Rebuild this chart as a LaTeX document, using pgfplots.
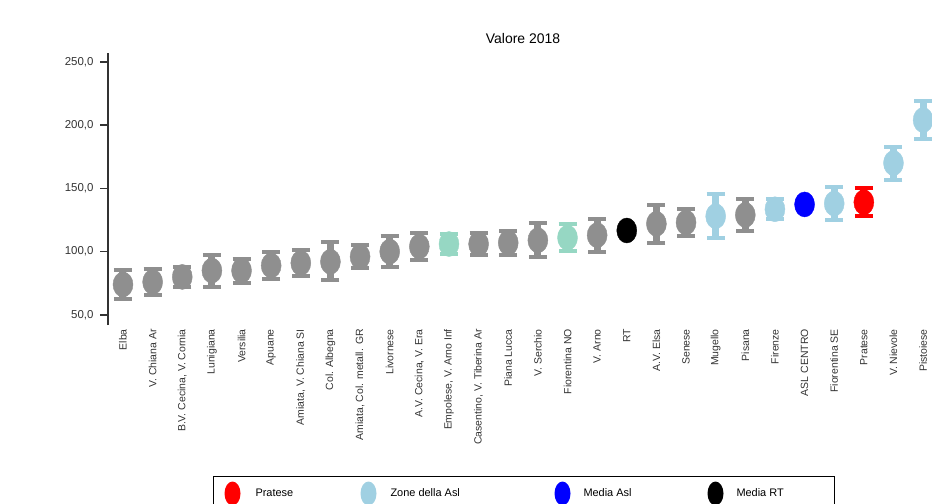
\documentclass[border=0pt]{standalone}
\usepackage{pgfplots}
\pgfplotsset{compat=1.18}
\usepackage{pgfplotstable}
\usepackage{fontspec}
\setmainfont{Liberation Sans}
\definecolor{mgray}{RGB}{143,143,143}
\definecolor{mint}{RGB}{150,215,195}
\definecolor{lblue}{RGB}{160,208,226}
\definecolor{pred}{RGB}{255,0,0}
\definecolor{pblue}{RGB}{0,0,255}

\pgfplotstableread{
x y ep em
0 74 11.5 11.5
1 76 10.5 10.5
2 80 8 8
3 85 12.5 13
4 85 9.5 9.5
5 89 11 11
6 91 10.5 10.5
7 92 16 14.5
8 96 9 9
9 100 12 12
10 104 10.5 10.5
12 106 9 9
13 107 9.5 9.5
14 109 13.5 13.5
16 113 13 13
18 122 15 15
19 123 10.5 10.5
21 129 12.5 12.5
}\graydata

\pgfplotstableread{
x y ep em
11 106 8 8
15 111 10.5 10.5
}\mintdata

\pgfplotstableread{
x y ep em
20 128 17.5 17.5
22 133.5 8 8
24 138 13 13
26 170 13 13
27 204 15 15
}\bluezone

\pgfplotstableread{
x y ep em
25 139 11 11
}\pratese

\pgfplotstableread{
x y
23 137.3
}\mediaasl

\pgfplotstableread{
x y
17 116.7
}\mediart

\pgfplotsset{
  errstyle/.style={
    error bars/y dir=both, error bars/y explicit,
    error bars/error bar style={line width=7bp},
    error bars/error mark options={rotate=90, mark size=9bp, line width=4bp, xscale=1},
  }
}

\begin{document}
\begin{tikzpicture}
\useasboundingbox (0,0) rectangle (932bp,504bp);
\begin{axis}[
  at={(108bp,179bp)}, anchor=south west,
  scale only axis, width=824bp, height=272bp,
  xmin=-0.506, xmax=27.3, ymin=42, ymax=257,
  clip=false,
  axis lines*=left,
  x axis line style={draw=none},
  y axis line style={line width=1.5bp, color=black!80},
  tick align=outside,
  major tick length=8bp,
  xtick style={draw=none},
  ytick style={line width=1.5bp, color=black!80},
  ytick={50,100,150,200,250},
  yticklabel style={font=\fontsize{11.5}{13}\selectfont, color=black!80, xshift=-3bp,
    /pgf/number format/.cd, fixed, fixed zerofill, precision=1, use comma},
  /pgf/number format/assume math mode=true,
  xtick={0,...,27},
  xticklabels={Elba, V. Chiana Ar, {B.V. Cecina, V. Cornia}, Lunigiana, Versilia, Apuane,
    {Amiata, V. Chiana SI}, Col. Albegna, {Amiata, Col. metall. GR}, Livornese,
    {A.V. Cecina, V. Era}, {Empolese, V. Arno Inf}, {Casentino, V. Tiberina Ar},
    Piana Lucca, V. Serchio, Fiorentina NO, V. Arno, RT, A.V. Elsa, Senese, Mugello,
    Pisana, Firenze, ASL CENTRO, Fiorentina SE, Pratese, V. Nievole, Pistoiese},
  xticklabel style={yshift=4bp, rotate=90, anchor=east, inner sep=0pt, font=\fontsize{10.5}{12}\selectfont, color=black!80},
  title={Valore 2018},
  title style={at={(0.5036,1.0147)}, anchor=base, inner sep=0pt, font=\fontsize{14}{16}\selectfont},
  legend columns=4,
  legend cell align=left,
  legend style={at={(0.12743,-0.55515)}, anchor=north west, draw=black, line width=1bp,
    inner xsep=0pt, inner ysep=5bp, font=\fontsize{11}{13}\selectfont,
    nodes={inner sep=0pt},
    /tikz/every even column/.append style={column sep=0pt},
    /tikz/every odd column/.append style={column sep=0pt}},
]
\addlegendimage{legend image code/.code={\path[draw=none, fill=none] (0,0) rectangle (42bp,0); \fill[pred, draw=none] (19bp,0) ellipse (8bp and 12bp);}}
\addlegendimage{legend image code/.code={\path[draw=none, fill=none] (0,0) rectangle (50bp,0); \fill[lblue, draw=none] (28bp,0) ellipse (8bp and 12bp);}}
\addlegendimage{legend image code/.code={\path[draw=none, fill=none] (0,0) rectangle (53bp,0); \fill[pblue, draw=none] (32bp,0) ellipse (8bp and 12bp);}}
\addlegendimage{legend image code/.code={\path[draw=none, fill=none] (0,0) rectangle (46bp,0); \fill[black, draw=none] (25bp,0) ellipse (8bp and 12bp);}}
\legend{\makebox[85bp][l]{Pratese}, \makebox[140bp][l]{Zone della Asl}, \makebox[107bp][l]{Media Asl}, \makebox[98bp][l]{Media RT}}

\addplot[color=mgray, only marks, mark=*, mark size=12.5bp, mark options={xscale=0.8}, errstyle]
  table[x=x, y=y, y error plus=ep, y error minus=em] {\graydata};
\addplot[color=mint, only marks, mark=*, mark size=12.5bp, mark options={xscale=0.8}, errstyle]
  table[x=x, y=y, y error plus=ep, y error minus=em] {\mintdata};
\addplot[color=lblue, only marks, mark=*, mark size=12.5bp, mark options={xscale=0.8}, errstyle]
  table[x=x, y=y, y error plus=ep, y error minus=em] {\bluezone};
\addplot[color=pred, only marks, mark=*, mark size=12.5bp, mark options={xscale=0.8}, errstyle]
  table[x=x, y=y, y error plus=ep, y error minus=em] {\pratese};
\addplot[color=pblue, only marks, mark=*, mark size=12.5bp, mark options={xscale=0.8}]
  table[x=x, y=y] {\mediaasl};
\addplot[color=black, only marks, mark=*, mark size=12.5bp, mark options={xscale=0.8}]
  table[x=x, y=y] {\mediart};
\end{axis}
\end{tikzpicture}
\end{document}
